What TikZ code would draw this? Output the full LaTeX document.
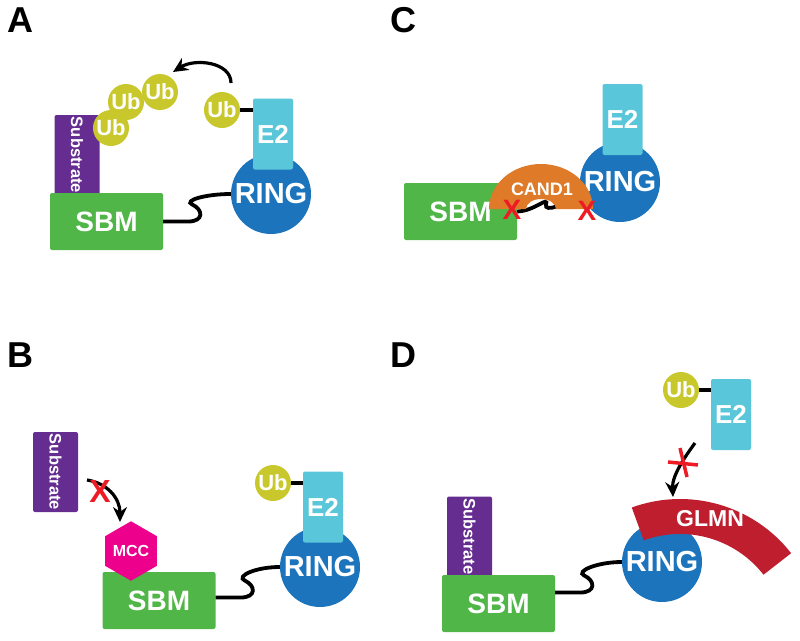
\documentclass[tikz,border=0pt]{standalone}
\usepackage{fontspec}
\setsansfont{Liberation Sans}
\usepackage{tikz}
\usetikzlibrary{shapes.geometric, arrows.meta}
\definecolor{sbmgreen}{RGB}{80,182,72}
\definecolor{subpurple}{RGB}{102,45,145}
\definecolor{ubyellow}{RGB}{200,200,44}
\definecolor{e2blue}{RGB}{90,198,218}
\definecolor{ringblue}{RGB}{28,117,188}
\definecolor{candorange}{RGB}{222,122,40}
\definecolor{mccpink}{RGB}{236,0,140}
\definecolor{glmnred}{RGB}{190,30,45}
\definecolor{xred}{RGB}{237,28,36}
\newcommand{\dgfont}[1]{\sffamily\bfseries\fontsize{#1}{#1}\selectfont}
\tikzstyle{arrow} = [line width=3.2pt,-{Stealth[length=15pt,width=14pt]}]
\tikzstyle{linker} = [line width=3.8pt]
\tikzstyle{bond} = [line width=4.5pt]
\tikzstyle{xline} = [xred, line width=3.5pt]
\tikzset{
  box/.style={rounded corners=2pt, inner sep=0pt, text=white},
  sbm/.style={box, fill=sbmgreen, minimum width=113pt, minimum height=57pt, font=\dgfont{28}},
  substrate/.style={box, fill=subpurple, minimum width=80pt, minimum height=45pt, rotate=-90, font=\dgfont{16.5}},
  e2/.style={box, fill=e2blue, minimum width=40pt, minimum height=71pt, font=\dgfont{26}},
  ring/.style={circle, fill=ringblue, text=white, inner sep=0pt, minimum size=80pt, font=\dgfont{29}},
  ub/.style={circle, fill=ubyellow, text=white, inner sep=0pt, minimum size=36pt, font=\dgfont{22}},
  mcc/.style={regular polygon, regular polygon sides=6, shape border rotate=30, fill=mccpink, text=white, inner sep=0pt, minimum size=56pt, font=\dgfont{16}},
  tag/.style={text=white, inner sep=0pt},
  cross/.style={text=xred, inner sep=0pt, font=\dgfont{28}},
  panel/.style={inner sep=0pt, font=\dgfont{36}}
}
\begin{document}
\begin{tikzpicture}[x=1pt, y=-1pt]
        \useasboundingbox (0,0) rectangle (800,640);
        % Panel A
        \node[panel] (labA) at (20,20) {A};
        \node[substrate] (subA) at (77,155) {Substrate};
        \node[sbm] (sbmA) at (106.5,221.5) {SBM};
        \node[ring] (ringA) at (271,194) {RING};
        \node[e2] (e2A) at (273,134) {E2};
        \node[ub] (ubA1) at (126,102) {Ub};
        \node[ub] (ubA2) at (160,92) {Ub};
        \node[ub] (ubA3) at (111,128) {Ub};
        \node[ub] (ubA4) at (222,110) {Ub};
        \draw[bond] (ubA4.east) -- (ubA4.east -| e2A.west);
        \draw[linker] (sbmA.east) -- ++(25,0) .. controls +(16,0) and +(11,5) .. ++(4,-17) .. controls +(-9,-4) and +(-25,0) .. (ringA.west);
        \coordinate (arrA1) at (231,83);
        \coordinate (arrA2) at (173,72);
        \draw[arrow] (arrA1) .. controls (231,62) and (195,58) .. (arrA2);

        % Panel C
        \node[panel] (labC) at (403,20) {C};
        \node[sbm] (sbmC) at (460.5,211.5) {SBM};
        \node[ring] (ringC) at (620,182) {RING};
        \node[e2] (e2C) at (622.5,119.5) {E2};
        \draw[linker] (sbmC.east) .. controls (535,211) and (549,195) .. (546,205) .. controls (544,211) and (565,210) .. (ringC.west);
        \fill[candorange] (489,209) arc[start angle=180, end angle=360, x radius=52, y radius=45] -- (556,209) arc[start angle=0, end angle=-180, x radius=15, y radius=10] -- cycle;
        \node[tag, font=\dgfont{18}] (cand) at (542,189) {CAND1};
        \node[cross] (xC1) at (512,210) {X};
        \node[cross] (xC2) at (587,211) {X};

        % Panel B
        \node[panel] (labB) at (20,355) {B};
        \node[substrate] (subB) at (55.5,472) {Substrate};
        \node[sbm] (sbmB) at (159,600.5) {SBM};
        \node[mcc] (mcc) at (131,551) {MCC};
        \node[ring] (ringB) at (320,567) {RING};
        \node[e2] (e2B) at (323,507) {E2};
        \node[ub] (ubB) at (273,483) {Ub};
        \draw[bond] (ubB.east) -- (ubB.east -| e2B.west);
        \draw[linker] ([yshift=3pt]sbmB.east) -- ++(25,0) .. controls +(16,0) and +(11,5) .. ++(4,-17) .. controls +(-9,-4) and +(-25,0) .. (ringB.west);
        \coordinate (arrB1) at (87,480);
        \coordinate (arrB2) at (120,522);
        \draw[arrow] (arrB1) .. controls (107,483) and (120,498) .. (arrB2);
        \node[cross, font=\dgfont{32}] (xB) at (100,491) {X};

        % Panel D
        \node[panel] (labD) at (403,355) {D};
        \node[substrate] (subD) at (469.5,536.5) {Substrate};
        \node[sbm] (sbmD) at (498.5,603.5) {SBM};
        \node[ring] (ringD) at (662,562) {RING};
        \draw[linker] ([yshift=11pt]sbmD.east) -- ++(25,0) .. controls +(16,0) and +(11,5) .. ++(4,-17) .. controls +(-9,-4) and +(-25,0) .. (ringD.west);
        \fill[glmnred] (680,640) ++(-110:141) arc[start angle=-110, end angle=-38, radius=141] -- (763.5,574.7) arc[start angle=-38, end angle=-110, radius=106] -- cycle;
        \node[tag, font=\dgfont{23}] (glmn) at (710,519) {GLMN};
        \node[e2] (e2D) at (731,414.5) {E2};
        \node[ub] (ubD) at (681,390) {Ub};
        \draw[bond] (ubD.east) -- (ubD.east -| e2D.west);
        \coordinate (arrD1) at (695,443);
        \coordinate (arrD2) at (673,497);
        \draw[arrow] (arrD1) .. controls (684,458) and (672,476) .. (arrD2);
        \draw[xline] (680,448) -- (687,477);
        \draw[xline] (668,462) -- (698,465);
\end{tikzpicture}
\end{document}
